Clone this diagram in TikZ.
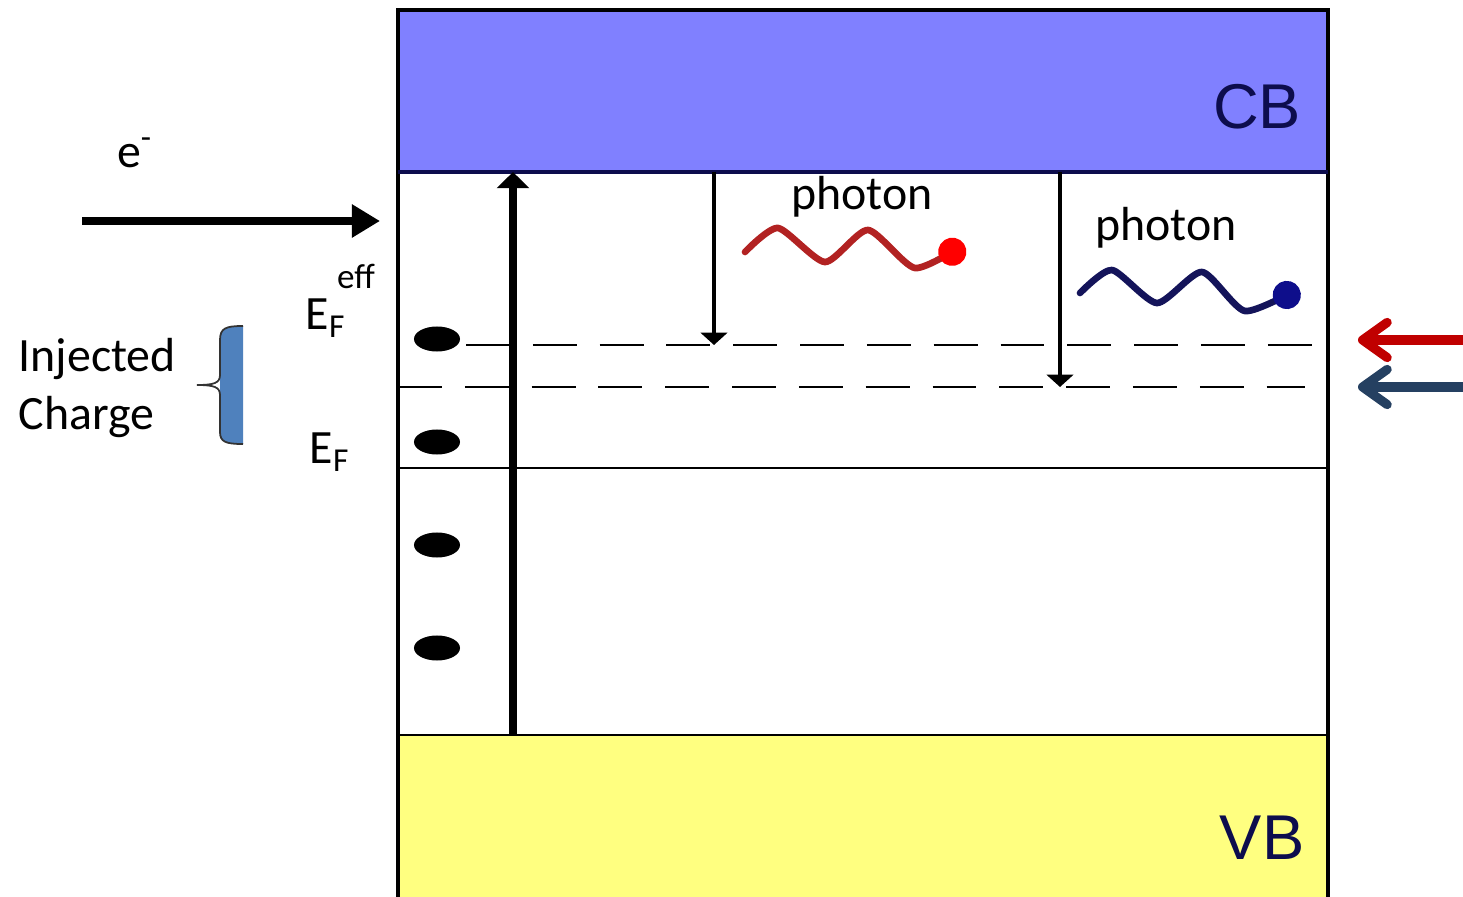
\documentclass[tikz,border=0pt]{standalone}
\usepackage{fontspec}
\setmainfont{Carlito}
\newfontfamily\bandfont{Liberation Sans}
\usetikzlibrary{positioning, arrows.meta}
\definecolor{CBband}{HTML}{8080FF}
\definecolor{VBband}{HTML}{FFFF80}
\definecolor{BandText}{HTML}{0D0D4D}
\definecolor{RedPhoton}{HTML}{B22222}
\definecolor{NavyPhoton}{HTML}{14145A}
\definecolor{RedMark}{HTML}{C00000}
\definecolor{BlueMark}{HTML}{254061}
\definecolor{BraceFill}{HTML}{4F81BD}
\tikzset{
    txt/.style={font=\fontsize{13.6}{16.5}\selectfont, text=black, inner sep=0pt},
    smalltxt/.style={font=\fontsize{10}{10}\selectfont, text=black, inner sep=0pt},
    bandtxt/.style={font=\bandfont\fontsize{18}{18}\selectfont, text=BandText, inner sep=0pt},
    fermiline/.style={line width=0.45pt, dash pattern=on 12.5pt off 6.5pt},
    drop/.style={-{Triangle[length=3.5pt, width=7.5pt]}, line width=1.4pt},
    wave/.style={line width=1.9pt, line join=round, line cap=round},
    sidearrow/.style={line width=2.6pt, line cap=round, -{Straight Barb[length=7pt, width=10pt, round]}},
}

\begin{document}
\begin{tikzpicture}[x=0.01cm, y=-0.01cm, >=Latex]
    \useasboundingbox (0,0) rectangle (1463,897);

    % Bands
    \fill[CBband] (398,10) rectangle (1328,172);
    \fill[VBband] (398,735) rectangle (1328,897);
    \draw[line width=0.9pt] (398,897) -- (398,10) -- (1328,10) -- (1328,897);
    \draw[line width=0.9pt, BandText] (398,172) -- (1328,172);
    \draw[line width=0.7pt] (398,735) -- (1328,735);
    \node[bandtxt] (cb) at (1257,107) {CB};
    \node[bandtxt] (vb) at (1262,838) {VB};

    % Levels
    \draw[fermiline] (466,345) -- (1328,345);
    \draw[fermiline] (398,387) -- (1305,387);
    \draw[line width=0.6pt] (398,468) -- (1328,468);

    % Carriers
    \foreach \y in {339,442,545,648}
        \fill (437,\y) ellipse [x radius=0.23cm, y radius=0.125cm];

    % Transitions
    \coordinate (vbedge) at (513,735);
    \coordinate (cbedge) at (513,172);
    \draw[line width=2.2pt, -{Triangle[length=4.6pt, width=9pt]}] (vbedge) -- (cbedge);
    \coordinate (redtop) at (714,172);
    \coordinate (redend) at (714,345);
    \draw[drop] (redtop) -- (redend);
    \coordinate (bluetop) at (1060,172);
    \coordinate (blueend) at (1060,387);
    \draw[drop] (bluetop) -- (blueend);

    % Photons
    \node[txt] (redph) at (862,197) {photon};
    \node[txt] (blueph) at (1166,228) {photon};
    \draw[wave, RedPhoton, -{Circle[length=8pt, color=red]}] plot[smooth, tension=0.4]
        coordinates {(745,252) (778,228) (825,262) (868,230) (915,268) (964,244)};
    \draw[wave, NavyPhoton, -{Circle[length=8pt, color=NavyPhoton!70!blue]}] plot[smooth, tension=0.4]
        coordinates {(1080,293) (1112,270) (1157,303) (1202,272) (1245,311) (1299,288)};

    % Electron injection
    \coordinate (ein) at (82,221);
    \coordinate (eout) at (380,221);
    \draw[line width=2pt, -{Triangle[length=8pt, width=9pt]}] (ein) -- (eout);
    \node[txt] (elec) at (135,153) {e\textsuperscript{-}};

    % Fermi labels
    \node[txt] (efeff) at (326,318) {E\textsubscript{F}};
    \node[smalltxt] (eff) at (356,276) {eff};
    \node[txt] (ef) at (330,452) {E\textsubscript{F}};

    % Injected charge
    \node[txt, align=left, anchor=west] (inj) at (18,388) {Injected\\Charge};
    \fill[BraceFill] (243,326) .. controls (226,326) and (220,328) .. (220,340) -- (220,432)
        .. controls (220,442) and (226,444) .. (243,444) -- cycle;
    \draw[line width=0.5pt, black!80] (243,326) .. controls (226,326) and (220,328) .. (220,340)
        -- (220,375) .. controls (220,383) and (214,385) .. (197,385)
        .. controls (214,385) and (220,387) .. (220,395) -- (220,432)
        .. controls (220,442) and (226,444) .. (243,444);

    % Side markers
    \coordinate (redfrom) at (1463,340);
    \coordinate (redto) at (1358,340);
    \draw[sidearrow, RedMark] (redfrom) -- (redto);
    \coordinate (bluefrom) at (1463,387);
    \coordinate (blueto) at (1358,387);
    \draw[sidearrow, BlueMark] (bluefrom) -- (blueto);
\end{tikzpicture}
\end{document}
